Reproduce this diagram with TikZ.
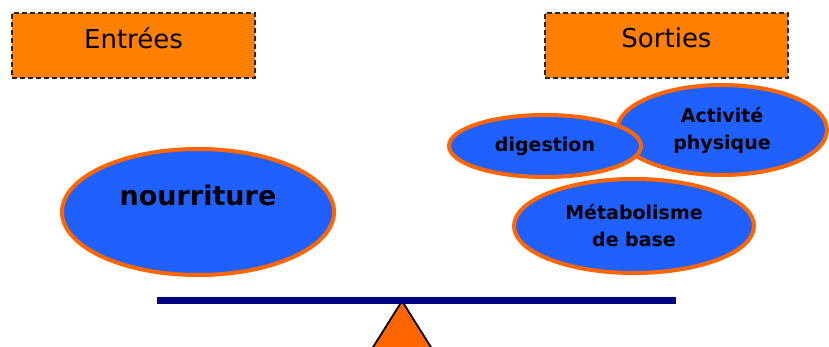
\documentclass[tikz,border=0pt]{standalone}
\usepackage{fontspec}
\setmainfont{DejaVu Sans}
\usetikzlibrary{shapes.geometric}
\definecolor{boxorange}{RGB}{255,128,0}
\definecolor{rimorange}{RGB}{255,102,0}
\definecolor{blobblue}{RGB}{32,96,255}
\definecolor{beamnavy}{RGB}{0,0,128}
\tikzset{
  title/.style={draw=black!85, dash pattern=on 5pt off 3pt, line width=1.5pt,
    fill=boxorange, minimum width=243pt, minimum height=65pt, inner sep=0pt,
    font=\fontsize{26}{30}\selectfont, text depth=15pt},
  blob/.style={ellipse, draw=rimorange, line width=4pt, fill=blobblue, inner sep=0pt,
    align=center, font=\bfseries\fontsize{19}{27}\selectfont}
}
\begin{document}
\begin{tikzpicture}[x=1pt,y=-1pt]
    \clip (0,0) rectangle (829,347);
    \node[title] (in) at (133.5,45.5) {Entrées};
    \node[title] (out) at (666.5,45.5) {Sorties};

    \node[blob, minimum width=272pt, minimum height=126pt, text depth=34pt,
      font=\bfseries\fontsize{27}{30}\selectfont] (food) at (198,212) {nourriture};

    \node[blob, minimum width=210pt, minimum height=90pt] (sport) at (722,130) {Activité\\physique};
    \node[blob, minimum width=192pt, minimum height=62pt] (dig) at (545,146) {digestion};
    \node[blob, minimum width=240pt, minimum height=94pt] (base) at (634,226) {Métabolisme\\de base};

    \draw[line width=1.8pt, fill=rimorange] (402,301) -- (434,352) -- (370,352) -- cycle;
    \draw[beamnavy, line width=7pt] (157,300.5) -- (676,300.5);
\end{tikzpicture}
\end{document}
